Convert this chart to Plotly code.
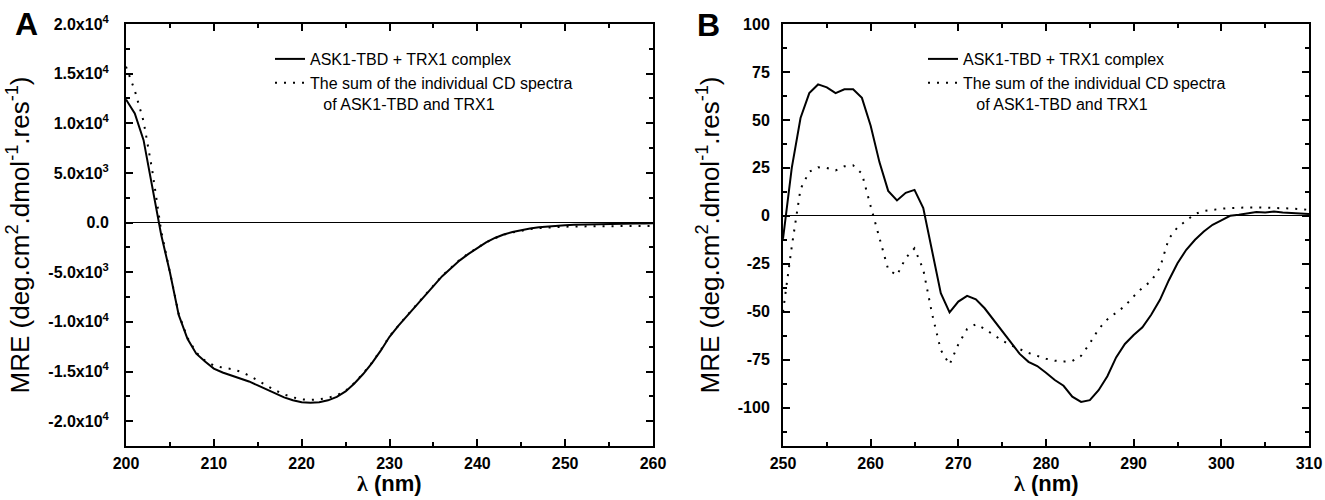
import plotly.graph_objects as go

# ---------------- data ----------------
wl_a = list(range(200, 261))
complex_a = [12400, 11000, 8300, 3600, -1200, -5000, -9300, -11700, -13200, -14000,
             -14700, -15100, -15400, -15650, -16000, -16400, -16800, -17200, -17600, -17900,
             -18100, -18150, -18100, -17900, -17550, -17000, -16200, -15250, -14150, -12900,
             -11500, -10400, -9400, -8400, -7400, -6400, -5400, -4600, -3800, -3150,
             -2550, -2000, -1550, -1200, -950, -750, -590, -470, -380, -310,
             -260, -230, -200, -180, -150, -130, -110, -100, -90, -80, -70]
sum_a = [15700, 13300, 10200, 5200, -800, -4900, -9200, -11600, -13100, -13900,
         -14400, -14600, -14750, -15000, -15400, -15900, -16400, -16900, -17300, -17600,
         -17800, -17850, -17800, -17650, -17400, -16950, -16150, -15200, -14100, -12850,
         -11450, -10350, -9350, -8350, -7350, -6350, -5350, -4550, -3750, -3100,
         -2500, -1980, -1560, -1230, -990, -800, -660, -560, -490, -440,
         -410, -390, -380, -370, -360, -355, -350, -345, -340, -335, -330]

wl_b = list(range(250, 311))
complex_b = [-12, 25, 51, 64, 68.5, 67, 64, 66, 66, 61.5,
             47, 28, 13, 8, 12, 13.5, 4, -17.7, -40.3, -50.3,
             -44.7, -41.7, -43.5, -48.2, -54.3, -60.4, -66.5, -72, -76.1, -78.3,
             -81.8, -85.6, -88.6, -94.3, -97, -96.1, -90.9, -83.6, -73.8, -66.8,
             -62.1, -58.1, -51.6, -43.8, -33.7, -24.7, -17.7, -12.5, -8.2, -4.7,
             -2.4, 0, 0.5, 1.4, 2, 1.7, 2.2, 1.7, 1.4, 1.2, 1.0]
sum_b = [-50, -16, 14, 23, 25.3, 24.9, 23.7, 25.8, 26.3, 22,
         5, -11, -28, -31, -22, -17, -28, -51, -70, -77.5,
         -67, -59, -56.5, -59, -62, -65, -67.5, -69.5, -71.5, -73,
         -74.5, -75.5, -76, -75.7, -73, -66.5, -59, -54, -50.5, -47,
         -42, -37.5, -34, -27, -12, -6, -2.5, 1, 2.5, 3.2,
         3.7, 4, 4.3, 4.4, 4.4, 4.3, 4.1, 4, 3.8, 3.5, 3.1]

x_ticks_a = [200, 210, 220, 230, 240, 250, 260]
x_ticks_b = [250, 260, 270, 280, 290, 300, 310]
y_ticks_a = [-20000, -15000, -10000, -5000, 0, 5000, 10000, 15000, 20000]
y_ticktext_a = ["-2.0x10<sup>4</sup>", "-1.5x10<sup>4</sup>", "-1.0x10<sup>4</sup>",
                "-5.0x10<sup>3</sup>", "0.0", "5.0x10<sup>3</sup>",
                "1.0x10<sup>4</sup>", "1.5x10<sup>4</sup>", "2.0x10<sup>4</sup>"]
y_ticks_b = [-100, -75, -50, -25, 0, 25, 50, 75, 100]

name_complex = "ASK1-TBD + TRX1 complex"
name_sum = "The sum of the individual CD spectra<br>\u00a0\u00a0\u00a0of ASK1-TBD and TRX1"
y_title = "MRE (deg.cm<sup>2</sup>.dmol<sup>-1</sup>.res<sup>-1</sup>)"
x_title = "<b><span style=\"font-family:'Liberation Serif', serif\">\u03bb</span> (nm)</b>"

# ---------------- figure ----------------
W, H = 1325, 500
FONT = "Liberation Sans, Arial, sans-serif"
dot_dash = "2px,7px"

fig = go.Figure()
fig.add_trace(go.Scatter(x=wl_a, y=complex_a, mode="lines", name=name_complex,
                         line=dict(color="black", width=2), xaxis="x", yaxis="y", legend="legend"))
fig.add_trace(go.Scatter(x=wl_a, y=sum_a, mode="lines", name=name_sum,
                         line=dict(color="black", width=2, dash=dot_dash), xaxis="x", yaxis="y", legend="legend"))
fig.add_trace(go.Scatter(x=wl_b, y=complex_b, mode="lines", name=name_complex,
                         line=dict(color="black", width=2), xaxis="x2", yaxis="y2", legend="legend2"))
fig.add_trace(go.Scatter(x=wl_b, y=sum_b, mode="lines", name=name_sum,
                         line=dict(color="black", width=2, dash=dot_dash), xaxis="x2", yaxis="y2", legend="legend2"))

ax_left_a, ax_right_a = 126, 653
ax_left_b, ax_right_b = 783, 1309
ax_top, ax_bot = 24, 446
ydom = [1 - ax_bot / H, 1 - ax_top / H]

def xaxis(left, right, ticks, rng, anchor):
    return dict(domain=[left / W, right / W], range=rng, anchor=anchor,
                tickvals=ticks, ticks="inside", ticklen=7, tickwidth=1.5, tickcolor="black",
                minor=dict(dtick=5, ticks="inside", ticklen=4, tickwidth=1.5, tickcolor="black"),
                showline=True, linecolor="black", linewidth=2, mirror="allticks",
                showgrid=False, zeroline=False, ticklabelstandoff=2,
                tickfont=dict(family=FONT, size=16, color="black", weight="bold"),
                automargin=False)

def yaxis(ticks, ticktext, rng, minor_dtick, anchor, lab_standoff):
    return dict(domain=ydom, range=rng, anchor=anchor,
                tickvals=ticks, ticktext=ticktext, ticks="inside", ticklen=7, tickwidth=1.5,
                tickcolor="black",
                minor=dict(dtick=minor_dtick, ticks="inside", ticklen=4, tickwidth=1.5, tickcolor="black"),
                showline=True, linecolor="black", linewidth=2, mirror="allticks",
                showgrid=False, zeroline=True, zerolinecolor="black", zerolinewidth=1.3,
                ticklabelstandoff=lab_standoff,
                tickfont=dict(family=FONT, size=16, color="black", weight="bold"),
                title=dict(text=y_title, font=dict(family=FONT, size=26, color="black"), standoff=11),
                automargin=False)

legend_common = dict(bgcolor="rgba(0,0,0,0)", borderwidth=0, tracegroupgap=0,
                     font=dict(family=FONT, size=16, color="black"), valign="top",
                     xanchor="left", yanchor="top", itemwidth=30)

x_title_y = 1 - 483 / H
fig.update_layout(
    width=W, height=H,
    margin=dict(l=0, r=0, t=0, b=0),
    paper_bgcolor="white", plot_bgcolor="white",
    xaxis=xaxis(ax_left_a, ax_right_a, x_ticks_a, [200, 260], "y"),
    yaxis=yaxis(y_ticks_a, y_ticktext_a, [-22500, 20000], 2500, "x", 12),
    xaxis2=xaxis(ax_left_b, ax_right_b, x_ticks_b, [250, 310], "y2"),
    yaxis2=yaxis(y_ticks_b, [str(v) for v in y_ticks_b], [-120, 100], 12.5, "x2", 8),
    legend=dict(x=(ax_left_a + 144) / W, y=1 - 42 / H, **legend_common),
    legend2=dict(x=(ax_left_b + 140) / W, y=1 - 42 / H, **legend_common),
    showlegend=True,
    annotations=[
        dict(text="<b>A</b>", x=26 / W, y=1 - 24 / H, xref="paper", yref="paper",
             xanchor="center", yanchor="middle",
             showarrow=False, font=dict(family=FONT, size=32, color="black")),
        dict(text="<b>B</b>", x=708 / W, y=1 - 25 / H, xref="paper", yref="paper",
             xanchor="center", yanchor="middle",
             showarrow=False, font=dict(family=FONT, size=32, color="black")),
        dict(text=x_title, x=(ax_left_a + ax_right_a) / 2 / W, y=x_title_y,
             xref="paper", yref="paper", xanchor="center", yanchor="middle",
             showarrow=False, font=dict(family=FONT, size=22, color="black")),
        dict(text=x_title, x=(ax_left_b + ax_right_b) / 2 / W, y=x_title_y,
             xref="paper", yref="paper", xanchor="center", yanchor="middle",
             showarrow=False, font=dict(family=FONT, size=22, color="black")),
    ],
)

fig.write_html("out.html",
               config={"displayModeBar": False},
               post_script="document.body.style.margin='0';document.body.style.overflow='hidden';")
